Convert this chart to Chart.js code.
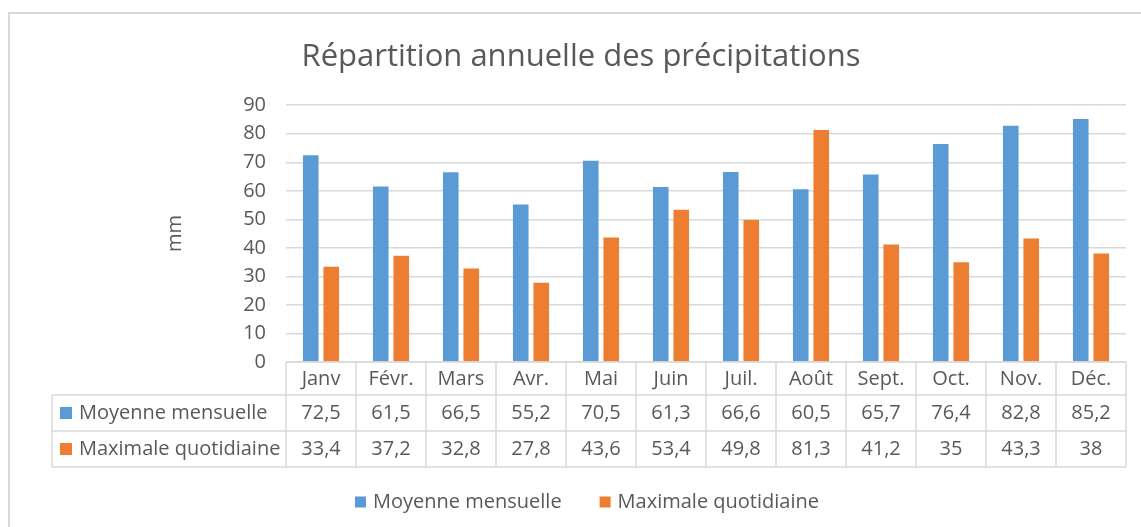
<!DOCTYPE html>
<html>
<head>
<meta charset="utf-8">
<script src="https://cdn.jsdelivr.net/npm/chart.js@4/dist/chart.umd.min.js"></script>
<style>
  html, body { margin: 0; padding: 0; background: #fff; }
  #wrap { position: relative; width: 1141px; height: 527px; }
  #frame { position: absolute; left: 8px; top: 12px; right: -10px; bottom: -10px;
           border-left: 2px solid #d9d9d9; border-top: 2px solid #d9d9d9; }
  canvas { position: absolute; left: 0; top: 0; }
</style>
</head>
<body>
<div id="wrap">
  <div id="frame"></div>
  <canvas id="chart" width="1141" height="527"></canvas>
</div>
<script>
const months = ['Janv', 'Févr.', 'Mars', 'Avr.', 'Mai', 'Juin', 'Juil.', 'Août', 'Sept.', 'Oct.', 'Nov.', 'Déc.'];
const moyenneMensuelle = [72.5, 61.5, 66.5, 55.2, 70.5, 61.3, 66.6, 60.5, 65.7, 76.4, 82.8, 85.2];
const maximaleQuotidiaine = [33.4, 37.2, 32.8, 27.8, 43.6, 53.4, 49.8, 81.3, 41.2, 35, 43.3, 38];
const seriesNames = ['Moyenne mensuelle', 'Maximale quotidiaine'];
const seriesColors = ['#5b9bd5', '#ed7d31'];

const FONT = '"Open Sans", "Noto Sans", sans-serif';
const TEXT = '#595959';
const LINE = '#d9d9d9';

Chart.defaults.font.family = FONT;
Chart.defaults.color = TEXT;

// number format like the source (comma decimals)
function fmt(v) {
  return String(v).replace('.', ',');
}

// draws the data table under the plot + the legend at the bottom
const dataTablePlugin = {
  id: 'dataTable',
  afterDraw(chart) {
    const ctx = chart.ctx;
    const x = chart.scales.x;
    const area = chart.chartArea;
    const cell = (area.right - area.left) / months.length;
    const headH = 33, rowH = 36;
    const top = area.bottom;
    const rowTops = [top + headH, top + headH + rowH];
    const bottom = top + headH + rowH * 2;
    const legendLeft = 52;

    ctx.save();
    ctx.strokeStyle = LINE;
    ctx.lineWidth = 1.5;
    ctx.beginPath();
    // horizontal lines
    ctx.moveTo(area.left, top); ctx.lineTo(area.right, top);
    [rowTops[0], rowTops[1], bottom].forEach(y => {
      ctx.moveTo(legendLeft, y); ctx.lineTo(area.right, y);
    });
    // vertical lines
    for (let i = 0; i <= months.length; i++) {
      const px = area.left + i * cell;
      ctx.moveTo(px, top); ctx.lineTo(px, bottom);
    }
    ctx.moveTo(legendLeft, rowTops[0]); ctx.lineTo(legendLeft, bottom);
    ctx.stroke();

    ctx.font = '20px ' + FONT;
    ctx.fillStyle = TEXT;
    ctx.textBaseline = 'middle';
    const rows = [moyenneMensuelle, maximaleQuotidiaine];
    rows.forEach((vals, r) => {
      const cy = rowTops[r] + rowH / 2;
      // legend key cell
      ctx.fillStyle = seriesColors[r];
      ctx.fillRect(legendLeft + 8, cy - 6, 12, 12);
      ctx.fillStyle = TEXT;
      ctx.textAlign = 'left';
      ctx.fillText(seriesNames[r], legendLeft + 27, cy);
      ctx.textAlign = 'center';
      vals.forEach((v, i) => {
        ctx.fillText(fmt(v), x.getPixelForValue(i), cy);
      });
    });

    // bottom legend
    const ly = 502;
    const box = 11, gap = 7, spacing = 38;
    const widths = seriesNames.map(n => ctx.measureText(n).width);
    const total = widths[0] + widths[1] + 2 * (box + gap) + spacing;
    let lx = 587 - total / 2;
    ctx.textAlign = 'left';
    seriesNames.forEach((n, i) => {
      ctx.fillStyle = seriesColors[i];
      ctx.fillRect(lx, ly - box / 2, box, box);
      ctx.fillStyle = TEXT;
      ctx.fillText(n, lx + box + gap, ly);
      lx += box + gap + widths[i] + spacing;
    });
    ctx.restore();
  }
};

new Chart(document.getElementById('chart'), {
  type: 'bar',
  data: {
    labels: months,
    datasets: [
      { label: seriesNames[0], data: moyenneMensuelle, backgroundColor: seriesColors[0] },
      { label: seriesNames[1], data: maximaleQuotidiaine, backgroundColor: seriesColors[1] }
    ]
  },
  options: {
    responsive: false,
    animation: false,
    layout: { padding: { left: 36, right: 15, top: 0, bottom: 60 } },
    categoryPercentage: 0.586,
    barPercentage: 0.76,
    plugins: {
      legend: { display: false },
      tooltip: { enabled: false },
      title: {
        display: true,
        text: 'Répartition annuelle des précipitations',
        color: TEXT,
        font: { size: 31, weight: 'normal' },
        padding: { top: 39, bottom: 29 }
      }
    },
    scales: {
      x: {
        grid: { display: false, drawTicks: false },
        border: { display: false },
        ticks: { font: { size: 20 }, color: TEXT, padding: 5, maxRotation: 0, autoSkip: false },
        afterFit(scale) { scale.height = 105; }
      },
      y: {
        min: 0,
        max: 90,
        ticks: { stepSize: 10, font: { size: 20 }, color: TEXT, padding: 20 },
        grid: { color: LINE, lineWidth: 1.5, drawTicks: false },
        border: { display: false },
        title: {
          display: true,
          text: 'mm',
          color: TEXT,
          font: { size: 20 },
          padding: { top: 127, bottom: 0 }
        },
        afterFit(scale) { scale.width = 250; }
      }
    }
  },
  plugins: [dataTablePlugin]
});
</script>
</body>
</html>
